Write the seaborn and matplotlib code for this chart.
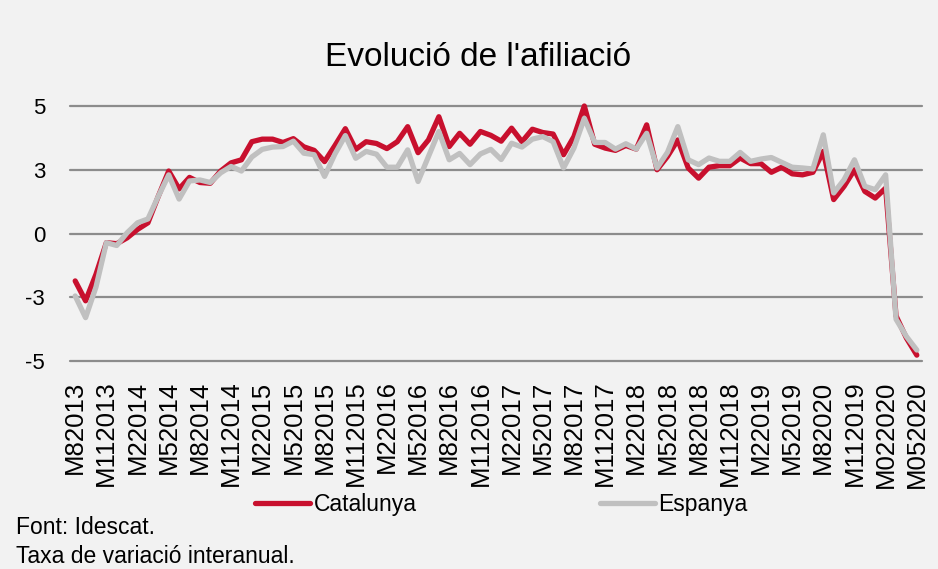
import numpy as np
import pandas as pd
import matplotlib
matplotlib.use("Agg")
import matplotlib.pyplot as plt
import seaborn as sns
from matplotlib import font_manager

# ---------------- data ----------------
tick_labels = ["M82013", "M112013", "M22014", "M52014", "M82014", "M112014",
               "M22015", "M52015", "M82015", "M112015", "M22016", "M52016",
               "M82016", "M112016", "M22017", "M52017", "M82017", "M112017",
               "M22018", "M52018", "M82018", "M112018", "M22019", "M52019",
               "M82020", "M112019", "M022020", "M052020"]

catalunya = [-1.86, -2.64, -1.60, -0.36, -0.40, -0.17, 0.16, 0.42, 1.46, 2.45,
             1.75, 2.20, 2.00, 1.97, 2.45, 2.77, 2.89, 3.60, 3.70, 3.70,
             3.57, 3.72, 3.40, 3.26, 2.82, 3.45, 4.11, 3.30, 3.60, 3.53,
             3.33, 3.60, 4.19, 3.17, 3.67, 4.58, 3.41, 3.93, 3.50, 4.00,
             3.85, 3.62, 4.13, 3.60, 4.09, 3.96, 3.90, 3.09, 3.80, 5.00,
             3.50, 3.35, 3.26, 3.45, 3.31, 4.26, 2.50, 3.02, 3.67, 2.57,
             2.17, 2.60, 2.66, 2.66, 2.96, 2.74, 2.74, 2.40, 2.60, 2.34,
             2.30, 2.40, 3.22, 1.33, 1.85, 2.50, 1.65, 1.39, 1.78, -3.23,
             -4.10, -4.77]

espanya = [-2.45, -3.30, -2.10, -0.36, -0.47, 0.03, 0.42, 0.57, 1.46, 2.30,
           1.35, 2.06, 2.10, 2.00, 2.38, 2.63, 2.45, 3.00, 3.30, 3.39,
           3.41, 3.62, 3.15, 3.09, 2.24, 3.12, 3.84, 2.95, 3.22, 3.11,
           2.60, 2.60, 3.28, 2.04, 3.02, 4.00, 2.89, 3.14, 2.70, 3.12,
           3.30, 2.90, 3.54, 3.39, 3.70, 3.80, 3.60, 2.57, 3.35, 4.52,
           3.57, 3.57, 3.31, 3.52, 3.31, 3.93, 2.57, 3.18, 4.19, 2.89,
           2.70, 2.96, 2.83, 2.83, 3.18, 2.83, 2.92, 2.98, 2.79, 2.60,
           2.57, 2.53, 3.87, 1.59, 2.11, 2.89, 1.85, 1.72, 2.30, -3.36,
           -4.04, -4.57]

series_names = ["Catalunya", "Espanya"]
y_ticks = [-5, -2.5, 0, 2.5, 5]
y_tick_labels = ["-5", "-3", "0", "3", "5"]

title = "Evolució de l'afiliació"
footer1 = "Font: Idescat."
footer2 = "Taxa de variació interanual."

# ---------------- style ----------------
BG = "#F2F2F2"
RED = "#C8102E"
GRAY = "#C0C0C0"
GRID = "#8C8C8C"

sns.set_theme(style="white")
avail = {f.name for f in font_manager.fontManager.ttflist}
fam = "DejaVu Sans"
for cand in ["Liberation Sans", "Roboto", "Open Sans"]:
    if cand in avail:
        fam = cand
        break
plt.rcParams["font.family"] = [fam, "DejaVu Sans"]
plt.rcParams["text.color"] = "black"
plt.rcParams["xtick.color"] = "black"
plt.rcParams["ytick.color"] = "black"

W, H = 938, 569
fig = plt.figure(figsize=(W / 100, H / 100), dpi=100, facecolor=BG)
ax = fig.add_axes([70 / W, 1 - 361 / H, (922 - 70) / W, (361 - 106) / H])
ax.set_facecolor(BG)

n = len(catalunya)
df = pd.DataFrame({
    "idx": list(range(n)) * 2,
    "value": catalunya + espanya,
    "serie": [series_names[0]] * n + [series_names[1]] * n,
})

sns.lineplot(data=df, x="idx", y="value", hue="serie",
             palette={series_names[0]: RED, series_names[1]: GRAY},
             linewidth=3.8, ax=ax, legend=True, sort=False)
for ln in ax.lines:
    ln.set_clip_on(False)
    ln.set_solid_joinstyle("round")
    ln.set_solid_capstyle("round")

ax.set_xlim(-0.5, n - 0.5)
ax.set_ylim(-5, 5)
ax.set_yticks(y_ticks)
ax.set_yticklabels(y_tick_labels)
ax.set_xticks(list(range(0, n, 3)))
ax.set_xticklabels(tick_labels, rotation=90)
ax.tick_params(axis="x", length=0, pad=14, labelsize=18.5, labelcolor="black")
ax.tick_params(axis="y", length=0, pad=18, labelsize=16, labelcolor="black")
for lab in ax.get_yticklabels():
    lab.set_horizontalalignment("right")
ax.yaxis.grid(True, color=GRID, linewidth=1.6)
for gl in ax.get_ygridlines():
    gl.set_clip_on(False)
ax.set_axisbelow(True)
for s in ax.spines.values():
    s.set_visible(False)
ax.set_xlabel("")
ax.set_ylabel("")

# legend
handles, labels = ax.get_legend_handles_labels()
ax.get_legend().remove()
for h in handles:
    h.set_linewidth(3.8)
leg = fig.legend(handles, labels, loc="center left",
                 bbox_to_anchor=(255 / W, 1 - 505 / H), ncol=2, frameon=False,
                 fontsize=16.5, handlelength=2.4, handletextpad=0.15,
                 columnspacing=8.0, borderpad=0, borderaxespad=0)
for t in leg.get_texts():
    t.set_color("black")

fig.text(478 / W, 1 - 66 / H, title, ha="center", va="baseline", fontsize=24,
         color="black")
fig.text(16 / W, 1 - 534 / H, footer1, ha="left", va="baseline", fontsize=16.5,
         color="black")
fig.text(16 / W, 1 - 563 / H, footer2, ha="left", va="baseline", fontsize=16.5,
         color="black")

fig.savefig("out.png", dpi=100, facecolor=BG)
